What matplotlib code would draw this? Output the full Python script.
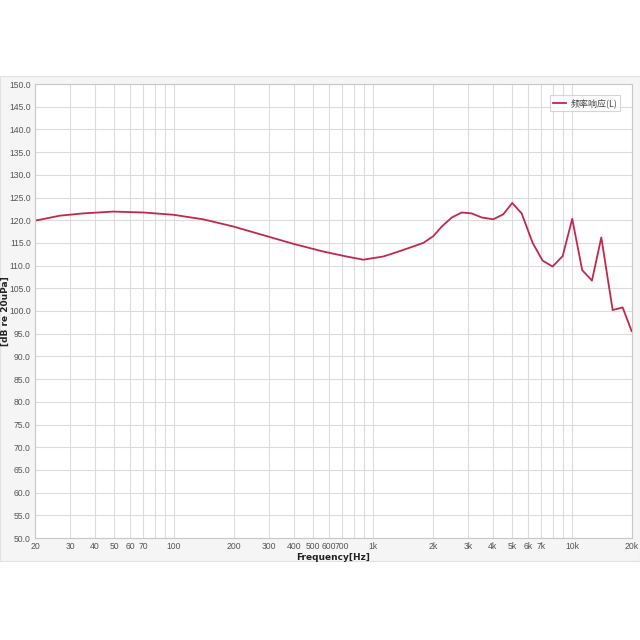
import matplotlib.pyplot as plt

plt.rcParams['font.family'] = ['DejaVu Sans', 'Noto Sans CJK SC']

# Data
freqs = [20, 26.7, 35, 49.5, 70, 99, 140, 199, 281, 397, 562, 736, 893, 1124,
         1365, 1788, 2009, 2213, 2485, 2788, 3128, 3513, 4018, 4509, 5003,
         5578, 6335, 7107, 7977, 8967, 10015, 11240, 12580, 14020, 15990,
         17940, 19900]
spl = [119.9, 121.0, 121.5, 121.9, 121.7, 121.2, 120.2, 118.6, 116.7, 114.8,
       113.1, 112.0, 111.3, 112.0, 113.2, 115.0, 116.5, 118.6, 120.6, 121.7,
       121.5, 120.6, 120.2, 121.3, 123.8, 121.5, 115.0, 111.1, 109.8, 112.1,
       120.3, 109.0, 106.7, 116.2, 100.2, 100.8, 95.6]

x_major = [20, 30, 40, 50, 60, 70, 100, 200, 300, 400, 500, 600, 700, 1000,
           2000, 3000, 4000, 5000, 6000, 7000, 10000, 20000]
x_labels = ['20', '30', '40', '50', '60', '70', '100', '200', '300', '400',
            '500', '600', '700', '1k', '2k', '3k', '4k', '5k', '6k', '7k',
            '10k', '20k']
x_minor = [80, 90, 800, 900, 8000, 9000]
y_ticks = list(range(50, 151, 5))

fig = plt.figure(figsize=(6.4, 6.4), dpi=100)
fig.patch.set_facecolor('white')
# light gray panel behind the chart
bg = fig.add_axes([0, 1 - 561 / 640, 1, (561 - 76) / 640], zorder=-1)
bg.set_facecolor('#f5f5f5')
bg.set_xticks([])
bg.set_yticks([])
for s in bg.spines.values():
    s.set_color('#e2e2e2')
    s.set_linewidth(0.8)

ax = fig.add_axes([35 / 640, 1 - 538 / 640, 597 / 640, 454 / 640])
ax.set_facecolor('white')
ax.plot(freqs, spl, color='#c0284f', linewidth=1.3, label='频率响应(L)')

ax.set_xscale('log')
ax.set_xlim(20, 20000)
ax.set_ylim(50, 150)
ax.set_xticks(x_major)
ax.set_xticklabels(x_labels, family='Liberation Sans')
ax.set_xticks(x_minor, minor=True)
ax.set_xticklabels([], minor=True)
ax.set_yticks(y_ticks)
ax.set_yticklabels([f'{v:.1f}' for v in y_ticks], family='Liberation Sans')
ax.tick_params(which='both', length=0, labelsize=6.2, labelcolor='#555555')
ax.tick_params(axis='x', pad=3)
ax.tick_params(axis='y', pad=3)
ax.grid(True, which='both', color='#dcdcdc', linewidth=0.8)
for s in ax.spines.values():
    s.set_color('#c8c8c8')
    s.set_linewidth(0.8)

ax.set_xlabel('Frequency[Hz]', fontsize=6.5, fontweight='bold', color='#222222')
ax.xaxis.set_label_coords(0.5, -0.033)
ax.set_ylabel('[dB re 20uPa]', fontsize=6.5, fontweight='bold', color='#222222')
ax.yaxis.set_label_coords(-0.042, 0.5)

leg = ax.legend(loc='upper right', frameon=True, fancybox=False,
                prop={'family': ['Noto Sans CJK SC', 'DejaVu Sans'], 'size': 6.5},
                handlelength=1.4, handletextpad=0.5, borderpad=0.35,
                bbox_to_anchor=(0.988, 0.985))
leg.get_frame().set_edgecolor('#cccccc')
leg.get_frame().set_linewidth(0.8)
for t in leg.get_texts():
    t.set_color('#444444')

fig.savefig('out.png', dpi=100)
